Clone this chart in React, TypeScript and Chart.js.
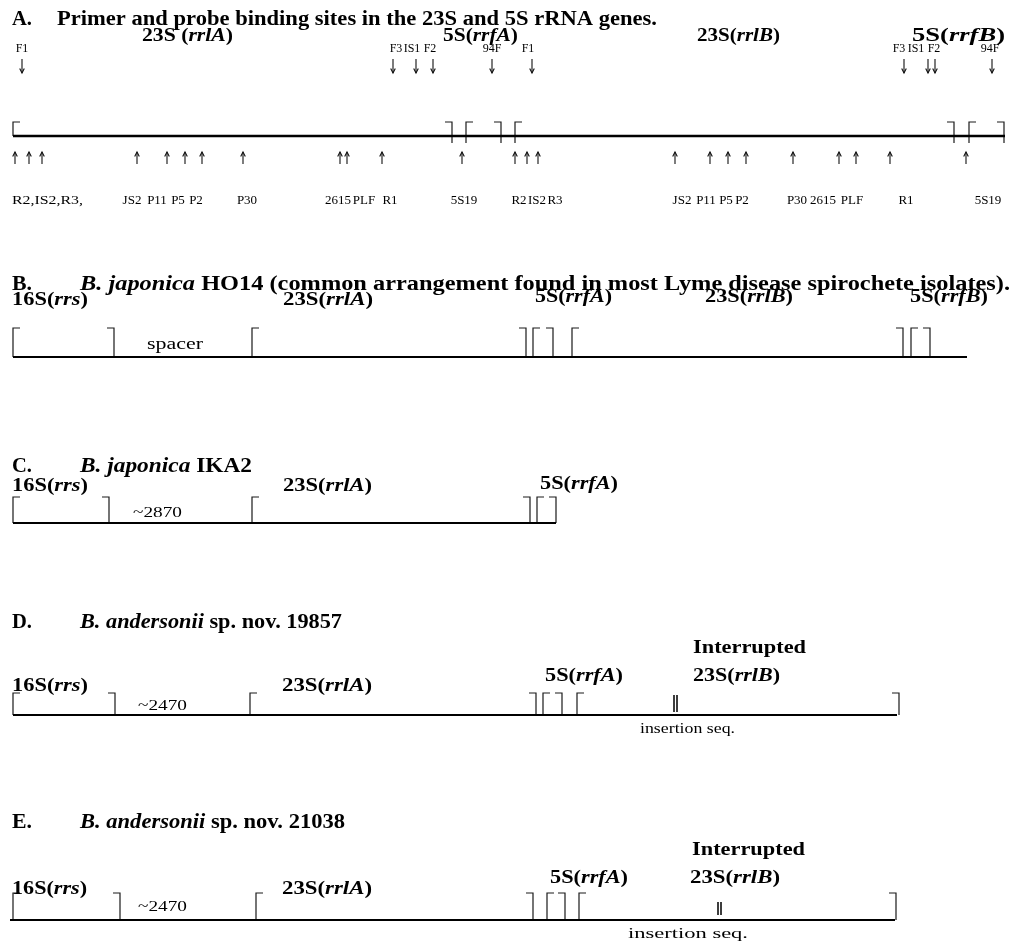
import React, { useEffect, useRef } from "react";
import { Chart, registerables } from "chart.js";
Chart.register(...registerables);

const W = 1020;
const H = 943;
const FAMILY = '"Liberation Serif", "Times New Roman", serif';

// ---------------- Panel A : primer / probe map ----------------
const aTitle = "Primer and probe binding sites in the 23S and 5S rRNA genes.";
const aGenePrefix = ["23S (", "5S(", "23S(", "5S("];
const aGeneLocus = ["rrlA", "rrfA", "rrlB", "rrfB"];
const aAxis = [13, 1005, 136];
const aGeneStarts = [13, 466, 515, 969];
const aGeneEnds = [452, 501, 954, 1004];
const aForwardNames = ["F1", "F3", "IS1", "F2", "94F", "F1", "F3", "IS1", "F2", "94F"];
const aForwardSites = [22, 393, 416, 433, 492, 532, 904, 928, 935, 992];
const aReverseSites = [15, 29, 42, 137, 167, 185, 202, 243, 340, 347, 382, 462, 515, 527, 538, 675, 710, 728, 746, 793, 839, 856, 890, 966];
const aReverseNames = ["R2,IS2,R3,", "JS2", "P11", "P5", "P2", "P30", "2615", "PLF", "R1", "5S19", "R2", "IS2", "R3", "JS2", "P11", "P5", "P2", "P30", "2615", "PLF", "R1", "5S19"];

// ---------------- Panel B ----------------
const bTitleItalic = "B. japonica";
const bTitleRest = " HO14 (common arrangement found in most Lyme disease spirochete isolates).";
const bGenePrefix = ["16S(", "23S(", "5S(", "23S(", "5S("];
const bGeneLocus = ["rrs", "rrlA", "rrfA", "rrlB", "rrfB"];
const bAxis = [13, 967, 357];
const bGeneStarts = [13, 252, 533, 572, 911];
const bGeneEnds = [114, 526, 553, 903, 930];
const bSpacerText = "spacer";

// ---------------- Panel C ----------------
const cTitleItalic = "B. japonica";
const cTitleRest = " IKA2";
const cGenePrefix = ["16S(", "23S(", "5S("];
const cGeneLocus = ["rrs", "rrlA", "rrfA"];
const cAxis = [13, 556, 523];
const cGeneStarts = [13, 252, 537];
const cGeneEnds = [109, 530, 556];
const cSpacerText = "~2870";

// ---------------- Panel D ----------------
const dTitleItalic = "B. andersonii";
const dTitleRest = " sp. nov. 19857";
const dGenePrefix = ["16S(", "23S(", "5S(", "23S("];
const dGeneLocus = ["rrs", "rrlA", "rrfA", "rrlB"];
const dAxis = [13, 897, 715];
const dGeneStarts = [13, 250, 543, 577];
const dGeneEnds = [115, 536, 562, 899];
const dSpacerText = "~2470";
const dInsertion = [674, 677];

// ---------------- Panel E ----------------
const eTitleItalic = "B. andersonii";
const eTitleRest = " sp. nov. 21038";
const eGenePrefix = ["16S(", "23S(", "5S(", "23S("];
const eGeneLocus = ["rrs", "rrlA", "rrfA", "rrlB"];
const eAxis = [10, 895, 920];
const eGeneStarts = [13, 256, 547, 579];
const eGeneEnds = [120, 533, 565, 896];
const eSpacerText = "~2470";
const eInsertion = [718, 721];

// ---------------- text layout (positions / extents, px) ----------------
const aGeneSpan = [[142, 233], [443, 518], [697, 780], [912, 1005]];
const aForwardLabelX = [22, 396, 412, 430, 492, 528, 899, 916, 934, 990];
const aReverseLabelX = [0, 132, 157, 178, 196, 247, 338, 364, 390, 464, 519, 537, 555, 682, 706, 726, 742, 797, 823, 852, 906, 988];
const bGeneSpan = [[12, 88], [283, 373], [535, 612], [705, 793], [910, 988]];
const bGeneBase = [305, 305, 302, 302, 302];
const cGeneSpan = [[12, 88], [283, 372], [540, 618]];
const cGeneBase = [491, 491, 489];
const dGeneSpan = [[12, 88], [282, 372], [545, 623], [693, 780]];
const dGeneBase = [691, 691, 681, 681];
const eGeneSpan = [[12, 87], [282, 372], [550, 628], [690, 780]];
const eGeneBase = [894, 894, 883, 883];

const SIZES: Record<string, number> = {
  title: 20,
  gene: 18,
  top: 12,
  bottom: 13,
  note: 16,
  num: 14,
  insD: 14,
  insE: 15.5,
};

type Run = [string, string];
type Label = { x: number; x1?: number; y: number; cls: string; runs: Run[] };

function fontFor(f: string, size: number) {
  if (f === "bi") return `italic bold ${size}px ${FAMILY}`;
  if (f === "b") return `bold ${size}px ${FAMILY}`;
  if (f === "i") return `italic ${size}px ${FAMILY}`;
  return `${size}px ${FAMILY}`;
}

function buildLabels(): Label[] {
  const L: Label[] = [];
  const span = (x: number, x1: number, y: number, cls: string, runs: Run[]) => L.push({ x, x1, y, cls, runs });
  const center = (x: number, y: number, cls: string, runs: Run[]) => L.push({ x, y, cls, runs });
  const genes = (pre: string[], loc: string[], sp: number[][], base: number[] | number) =>
    pre.forEach((p, i) =>
      span(sp[i][0], sp[i][1], Array.isArray(base) ? base[i] : base, "gene", [[p, "b"], [loc[i], "bi"], [")", "b"]])
    );

  // A
  span(12, 32, 25, "title", [["A.", "b"]]);
  span(57, 657, 25, "title", [[aTitle, "b"]]);
  genes(aGenePrefix, aGeneLocus, aGeneSpan, 41);
  aForwardNames.forEach((n, i) => center(aForwardLabelX[i], 52, "top", [[n, "r"]]));
  aReverseNames.forEach((n, i) => {
    if (i === 0) span(12, 83, 204, "bottom", [[n, "r"]]);
    else center(aReverseLabelX[i], 204, "bottom", [[n, "r"]]);
  });

  // B
  span(12, 32, 290, "title", [["B.", "b"]]);
  span(80, 1010, 290, "title", [[bTitleItalic, "bi"], [bTitleRest, "b"]]);
  genes(bGenePrefix, bGeneLocus, bGeneSpan, bGeneBase);
  span(147, 203, 349, "note", [[bSpacerText, "r"]]);

  // C
  span(12, 32, 472, "title", [["C.", "b"]]);
  span(80, 252, 472, "title", [[cTitleItalic, "bi"], [cTitleRest, "b"]]);
  genes(cGenePrefix, cGeneLocus, cGeneSpan, cGeneBase);
  span(133, 182, 517, "num", [[cSpacerText, "r"]]);

  // D
  span(12, 32, 628, "title", [["D.", "b"]]);
  span(80, 342, 628, "title", [[dTitleItalic, "bi"], [dTitleRest, "b"]]);
  span(693, 806, 653, "gene", [["Interrupted", "b"]]);
  genes(dGenePrefix, dGeneLocus, dGeneSpan, dGeneBase);
  span(138, 187, 710, "num", [[dSpacerText, "r"]]);
  span(640, 735, 733, "insD", [["insertion seq.", "r"]]);

  // E
  span(12, 32, 828, "title", [["E.", "b"]]);
  span(80, 345, 828, "title", [[eTitleItalic, "bi"], [eTitleRest, "b"]]);
  span(692, 805, 855, "gene", [["Interrupted", "b"]]);
  genes(eGenePrefix, eGeneLocus, eGeneSpan, eGeneBase);
  span(138, 187, 911, "num", [[eSpacerText, "r"]]);
  span(628, 748, 938, "insE", [["insertion seq.", "r"]]);
  return L;
}

type Pt = { x: number; y: number };
function seg(points: Pt[], width: number, color = "#000") {
  return {
    data: points,
    showLine: true,
    borderColor: color,
    backgroundColor: color,
    borderWidth: width,
    pointRadius: 0,
    pointHoverRadius: 0,
    fill: false,
    tension: 0,
    borderCapStyle: "butt",
    borderJoinStyle: "miter",
  };
}

function buildDatasets() {
  const ds: any[] = [];
  const BR = 7;
  const panel = (axis: number[], starts: number[], ends: number[], top: number, below: number, axisW: number) => {
    const [x0, x1, y] = axis;
    ds.push(seg([{ x: x0, y }, { x: x1, y }], axisW));
    starts.forEach((s) => {
      const bot = s <= x0 + 1 ? y : y + below;
      ds.push(seg([{ x: s + BR, y: top }, { x: s, y: top }, { x: s, y: bot }], 1.2, "#1a1a1a"));
    });
    ends.forEach((e) => {
      const bot = y + below;
      ds.push(seg([{ x: e - BR, y: top }, { x: e, y: top }, { x: e, y: bot }], 1.2, "#1a1a1a"));
    });
  };
  panel(aAxis, aGeneStarts, aGeneEnds, 122, 7, 2.6);
  panel(bAxis, bGeneStarts, bGeneEnds, 328, 0, 2);
  panel(cAxis, cGeneStarts, cGeneEnds, 497, 0, 2);
  panel(dAxis, dGeneStarts, dGeneEnds, 693, 0, 2);
  panel(eAxis, eGeneStarts, eGeneEnds, 893, 0, 2);

  // primer arrows
  const arrow = (x: number, tail: number, tip: number) => {
    const dir = tip > tail ? -1 : 1;
    ds.push(seg([{ x, y: tail }, { x, y: tip }], 1.1, "#111"));
    ds.push(seg([{ x: x - 2.3, y: tip + dir * 4.5 }, { x, y: tip }, { x: x + 2.3, y: tip + dir * 4.5 }], 1.1, "#111"));
  };
  aForwardSites.forEach((x) => arrow(x, 59, 73));
  aReverseSites.forEach((x) => arrow(x, 164, 152));

  // insertion marks
  dInsertion.forEach((x) => ds.push(seg([{ x, y: 695 }, { x, y: 712 }], 1, "#222")));
  eInsertion.forEach((x) => ds.push(seg([{ x, y: 902 }, { x, y: 915 }], 1, "#222")));
  return ds;
}

const textPlugin = {
  id: "diagramText",
  afterDatasetsDraw(chart: any) {
    const ctx = chart.ctx as CanvasRenderingContext2D;
    const xs = chart.scales.x;
    const ys = chart.scales.y;
    for (const lab of buildLabels()) {
      const size = SIZES[lab.cls];
      const py = ys.getPixelForValue(lab.y);
      ctx.save();
      ctx.fillStyle = "#000";
      ctx.textBaseline = "alphabetic";
      ctx.textAlign = "left";
      let total = 0;
      const parts = lab.runs.map(([t, f]) => {
        ctx.font = fontFor(f, size);
        const w = ctx.measureText(t).width;
        total += w;
        return { t, f, w };
      });
      let sx = 1;
      let cx = 0;
      const px = xs.getPixelForValue(lab.x);
      if (lab.x1 !== undefined) {
        sx = (xs.getPixelForValue(lab.x1) - px) / total;
      } else {
        cx = -total / 2;
      }
      ctx.translate(px, py);
      ctx.scale(sx, 1);
      for (const p of parts) {
        ctx.font = fontFor(p.f, size);
        ctx.fillText(p.t, cx, 0);
        cx += p.w;
      }
      ctx.restore();
    }
  },
};

const bgPlugin = {
  id: "whiteBg",
  beforeDraw(chart: any) {
    const ctx = chart.ctx;
    ctx.save();
    ctx.fillStyle = "#fff";
    ctx.fillRect(0, 0, chart.width, chart.height);
    ctx.restore();
  },
};

export default function App() {
  const ref = useRef<HTMLCanvasElement | null>(null);
  useEffect(() => {
    if (!ref.current) return;
    const chart = new Chart(ref.current, {
      type: "scatter",
      data: { datasets: buildDatasets() },
      options: {
        animation: false,
        responsive: true,
        maintainAspectRatio: false,
        events: [],
        layout: { padding: 0 },
        scales: {
          x: { type: "linear", min: 0, max: W, display: false },
          y: { type: "linear", min: 0, max: H, reverse: true, display: false },
        },
        plugins: { legend: { display: false }, tooltip: { enabled: false }, title: { display: false } },
      } as any,
      plugins: [bgPlugin, textPlugin],
    });
    return () => chart.destroy();
  }, []);
  return (
    <div style={{ position: "absolute", left: 0, top: 0, width: W, height: H, background: "#fff" }}>
      <canvas ref={ref} />
    </div>
  );
}
